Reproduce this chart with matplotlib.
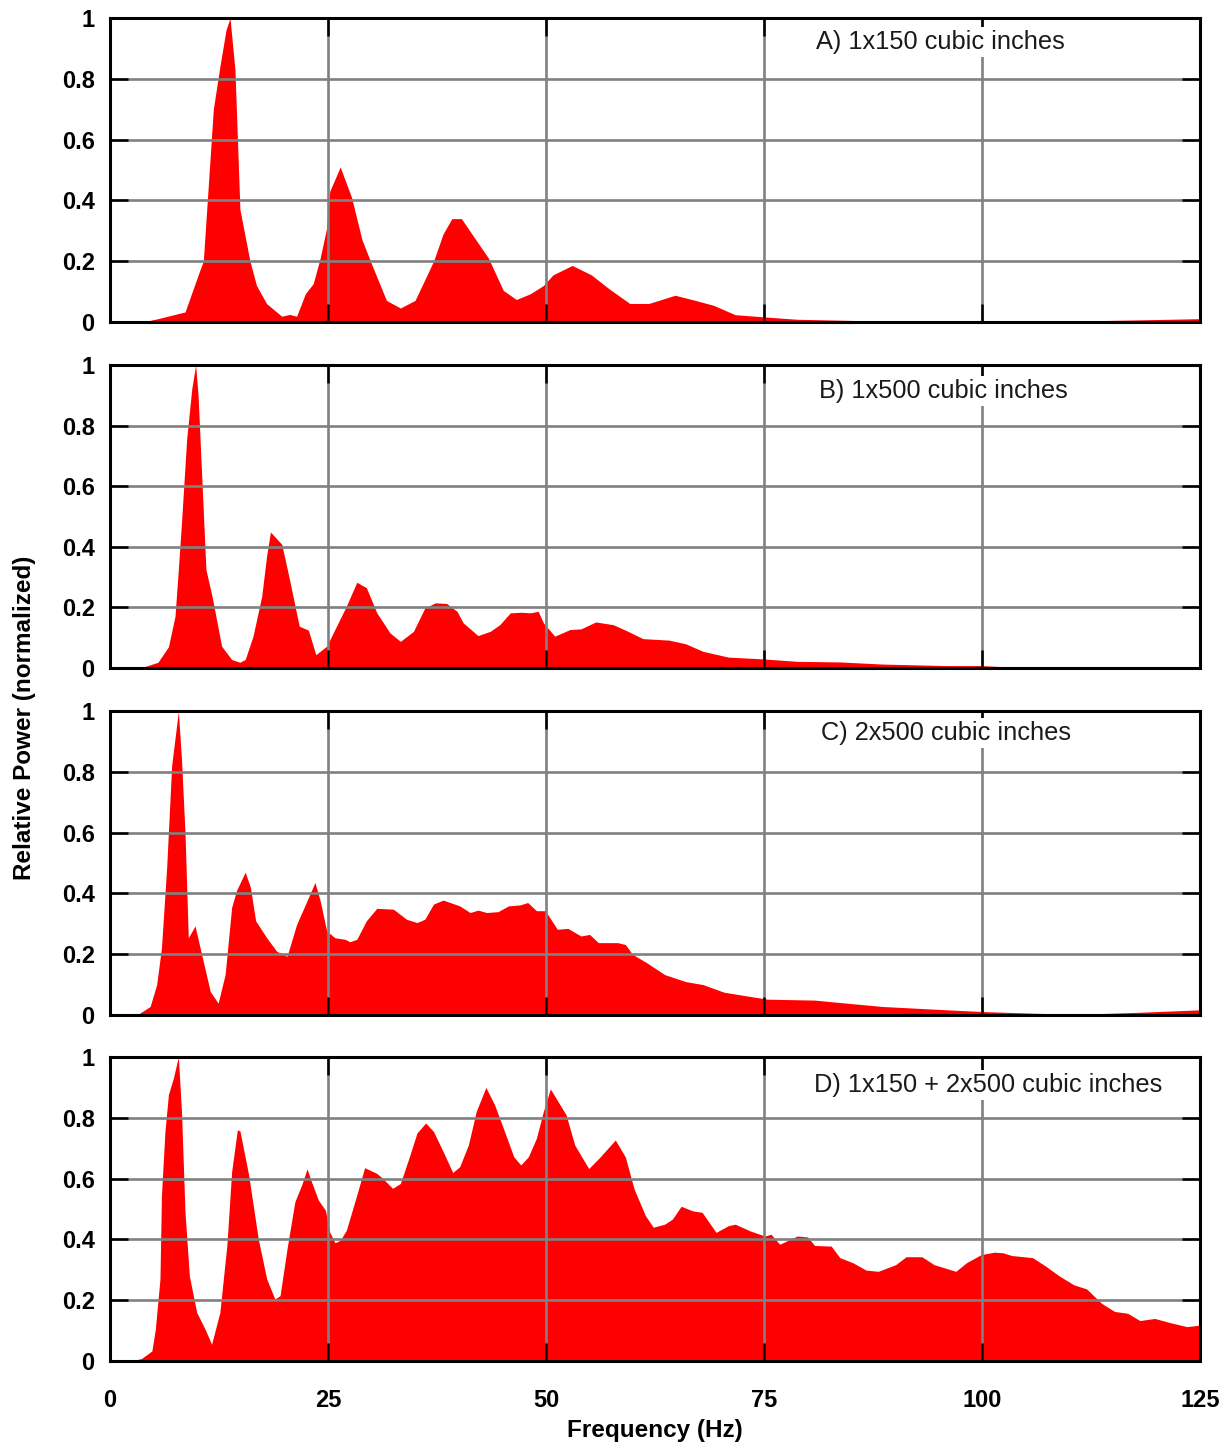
import matplotlib
matplotlib.use("Agg")
import matplotlib.pyplot as plt

plt.rcParams['font.family'] = ['Liberation Sans', 'DejaVu Sans']

# ---------------- data ----------------
freq_a = [0, 4, 5.35, 8.6, 10.3, 10.7, 11.85, 12.6, 13.3, 13.76, 14.33, 14.9, 16.05, 16.8, 17.97, 19.7,
          20.6, 21.4, 22.4, 23.3, 24.1, 24.85, 25.2, 26.4, 27.7, 28.9, 30.0, 31.7, 33.3, 34.98, 37.1,
          38.2, 39.2, 40.3, 42.2, 43.4, 45.1, 46.6, 48.2, 49.7, 50.8, 53.0, 55.2, 57.2, 59.6, 61.8,
          64.8, 67.0, 69.2, 71.7, 74.9, 78.8, 88.6, 98.5, 108.3, 118.1, 125]
power_a = [0, 0.002, 0.01, 0.033, 0.17, 0.2, 0.70, 0.84, 0.96, 1.0, 0.83, 0.37, 0.2, 0.12, 0.06, 0.019,
           0.025, 0.019, 0.093, 0.126, 0.21, 0.31, 0.43, 0.51, 0.41, 0.27, 0.19, 0.071, 0.046, 0.071, 0.2,
           0.29, 0.34, 0.34, 0.26, 0.21, 0.104, 0.074, 0.093, 0.12, 0.155, 0.186, 0.155, 0.11, 0.061, 0.061,
           0.088, 0.072, 0.055, 0.024, 0.017, 0.009, 0.003, 0.003, 0.002, 0.007, 0.011]

freq_b = [0, 3.8, 5.5, 6.7, 7.45, 7.8, 8.2, 8.79, 9.37, 9.82, 10.1, 10.5, 11.0, 11.7, 12.8,
          13.95, 14.9, 15.5, 16.4, 17.4, 17.96, 18.4, 19.7, 20.6, 21.7, 22.75, 23.6, 24.85, 25.6, 27.1,
          28.3, 29.4, 30.6, 32.1, 33.3, 34.8, 36.1, 37.3, 38.6, 39.8, 40.5, 42.2, 43.6, 44.7, 45.9,
          47.2, 48.2, 49.1, 49.7, 51.0, 52.75, 54.0, 55.7, 57.7, 59.4, 61.1, 64.1, 66.0, 68.0, 70.9,
          74.9, 78.8, 83.7, 88.6, 96.0, 99.9, 103.4, 113.2, 122, 125]
power_b = [0, 0.003, 0.019, 0.07, 0.17, 0.31, 0.48, 0.755, 0.92, 1.0, 0.9, 0.645, 0.325, 0.237, 0.072,
           0.028, 0.019, 0.028, 0.105, 0.237, 0.37, 0.449, 0.408, 0.29, 0.138, 0.125, 0.044, 0.072, 0.116, 0.204,
           0.283, 0.265, 0.182, 0.116, 0.088, 0.121, 0.198, 0.215, 0.213, 0.187, 0.149, 0.107, 0.121, 0.143, 0.182,
           0.184, 0.182, 0.187, 0.149, 0.105, 0.127, 0.129, 0.152, 0.143, 0.121, 0.097, 0.092, 0.08, 0.055, 0.036,
           0.03, 0.022, 0.02, 0.013, 0.008, 0.008, 0.003, 0.0, 0.003, 0.005]

freq_c = [0, 3.25, 4.6, 5.35, 5.9, 6.5, 7.07, 7.84, 8.2, 8.6, 8.98, 9.75, 10.5, 11.5, 12.4,
          13.2, 13.95, 14.5, 15.5, 16.1, 16.7, 17.97, 19.1, 20.3, 21.4, 22.6, 23.5, 24.1, 24.85, 25.8,
          26.96, 27.5, 28.3, 29.4, 30.6, 32.5, 34.0, 35.2, 36.1, 37.1, 38.2, 40.1, 41.3, 42.2, 43.2,
          44.5, 45.7, 47.0, 47.9, 48.9, 49.9, 50.3, 51.3, 52.5, 54.0, 55.0, 56.0, 58.2, 59.1, 59.9,
          61.6, 63.6, 66.0, 68.0, 70.4, 73.4, 75.4, 80.8, 83.7, 88.6, 96.0, 100.4, 105.8, 110.8, 118.1, 125]
power_c = [0, 0.003, 0.028, 0.1, 0.22, 0.486, 0.82, 1.0, 0.84, 0.6, 0.254, 0.293, 0.2, 0.077, 0.039,
           0.133, 0.354, 0.409, 0.47, 0.42, 0.31, 0.254, 0.21, 0.193, 0.298, 0.376, 0.436, 0.376, 0.276, 0.254,
           0.249, 0.241, 0.249, 0.31, 0.351, 0.348, 0.315, 0.304, 0.315, 0.365, 0.378, 0.359, 0.337, 0.345, 0.337,
           0.34, 0.359, 0.362, 0.37, 0.343, 0.343, 0.326, 0.282, 0.285, 0.26, 0.265, 0.238, 0.238, 0.232, 0.2,
           0.171, 0.133, 0.11, 0.1, 0.075, 0.061, 0.052, 0.049, 0.041, 0.028, 0.017, 0.011, 0.006, 0.002, 0.009, 0.017]

freq_d = [0, 2.3, 3.6, 4.8, 5.2, 5.73, 5.9, 6.3, 6.7, 7.26, 7.84, 8.2, 8.6, 9.1, 9.94,
          10.9, 11.65, 12.6, 13.4, 13.95, 14.6, 14.9, 15.9, 17.0, 17.97, 18.9, 19.5, 20.3, 21.2, 21.98,
          22.6, 23.1, 23.9, 24.7, 25.2, 25.8, 26.4, 27.1, 28.3, 29.2, 30.6, 31.3, 32.4, 33.3, 34.4,
          35.2, 36.2, 37.1, 38.2, 39.3, 40.1, 41.1, 42.0, 43.1, 44.1, 45.1, 46.3, 47.1, 47.98, 48.9,
          49.7, 50.5, 52.3, 53.3, 54.9, 56.2, 57.95, 59.1, 60.1, 61.4, 62.3, 63.6, 64.5, 65.5, 66.8,
          67.9, 69.5, 70.9, 71.7, 73.4, 75.1, 75.8, 76.8, 78.8, 80.0, 80.8, 82.7, 83.7, 85.2, 86.7,
          88.1, 90.1, 91.3, 93.1, 94.5, 97.0, 98.2, 99.9, 101.4, 102.4, 103.4, 105.8, 107.3, 108.8, 110.5,
          112.0, 113.7, 115.2, 116.7, 118.1, 119.8, 121.6, 123.5, 125]
power_d = [0, 0, 0.008, 0.033, 0.105, 0.27, 0.546, 0.755, 0.877, 0.93, 1.0, 0.82, 0.49, 0.28, 0.16,
           0.105, 0.055, 0.16, 0.38, 0.623, 0.76, 0.757, 0.612, 0.402, 0.27, 0.204, 0.215, 0.369, 0.524, 0.579,
           0.632, 0.59, 0.529, 0.496, 0.424, 0.389, 0.397, 0.43, 0.546, 0.636, 0.617, 0.6, 0.568, 0.584, 0.678,
           0.75, 0.783, 0.755, 0.689, 0.62, 0.639, 0.711, 0.821, 0.9, 0.843, 0.766, 0.672, 0.645, 0.672, 0.733,
           0.821, 0.895, 0.81, 0.71, 0.633, 0.671, 0.727, 0.671, 0.566, 0.478, 0.44, 0.45, 0.467, 0.509, 0.494,
           0.489, 0.423, 0.445, 0.45, 0.428, 0.411, 0.417, 0.384, 0.411, 0.408, 0.38, 0.378, 0.34, 0.323, 0.299,
           0.295, 0.317, 0.343, 0.343, 0.317, 0.295, 0.323, 0.35, 0.358, 0.356, 0.347, 0.34, 0.312, 0.281, 0.251,
           0.237, 0.19, 0.163, 0.157, 0.133, 0.14, 0.126, 0.113, 0.118]

panel_labels = ["A) 1x150 cubic inches", "B) 1x500 cubic inches",
                "C) 2x500 cubic inches", "D) 1x150 + 2x500 cubic inches"]
x_ticks = [0, 25, 50, 75, 100, 125]
y_ticks = [0, 0.2, 0.4, 0.6, 0.8, 1]
y_tick_labels = ["0", "0.2", "0.4", "0.6", "0.8", "1"]

series = [(freq_a, power_a), (freq_b, power_b), (freq_c, power_c), (freq_d, power_d)]

# ---------------- layout (pixels) ----------------
W, H = 1230, 1448
fig = plt.figure(figsize=(W / 100, H / 100), dpi=100)
left_px, right_px = 110, 1200
panel_px = [(18, 322), (365, 668), (711, 1015), (1057, 1361)]
label_pos = [(816, 42), (819, 391), (821, 733), (814, 1085)]

for i, ((top, bot), (f, p)) in enumerate(zip(panel_px, series)):
    ax = fig.add_axes([left_px / W, 1 - bot / H, (right_px - left_px) / W, (bot - top) / H])
    ax.fill_between(f, p, 0, color="#ff0000", linewidth=0, zorder=1)
    ax.set_xlim(0, 125)
    ax.set_ylim(0, 1)
    ax.set_xticks(x_ticks)
    ax.set_yticks(y_ticks)
    ax.set_yticklabels(y_tick_labels)
    ax.set_axisbelow(False)
    ax.grid(True, color="#808080", linewidth=1.9, zorder=2)
    ax.tick_params(axis="both", which="major", direction="in", length=13, width=1.8,
                   color="black", top=True, right=True, labelsize=17)
    ax.tick_params(axis="y", pad=11)
    ax.tick_params(axis="x", pad=20)
    for lab in ax.get_yticklabels() + ax.get_xticklabels():
        lab.set_fontweight("bold")
    if i < 3:
        ax.tick_params(axis="x", labelbottom=False)
    for s in ax.spines.values():
        s.set_linewidth(2.2)
        s.set_color("black")
        s.set_zorder(5)
    lx, ly = label_pos[i]
    ax.text((lx - left_px) / (right_px - left_px), (bot - ly) / (bot - top), panel_labels[i],
            transform=ax.transAxes, ha="left", va="center", fontsize=18.3, color="#1a1a1a",
            bbox=dict(facecolor="white", edgecolor="none", pad=2), zorder=6)

fig.text(655 / W, 1 - 1430 / H, "Frequency (Hz)", ha="center", va="center",
         fontsize=17.5, fontweight="bold")
fig.text(25 / W, 1 - 718 / H, "Relative Power (normalized)", ha="center", va="center",
         rotation=90, fontsize=17.5, fontweight="bold")

fig.savefig("out.png", dpi=100, facecolor="white")
